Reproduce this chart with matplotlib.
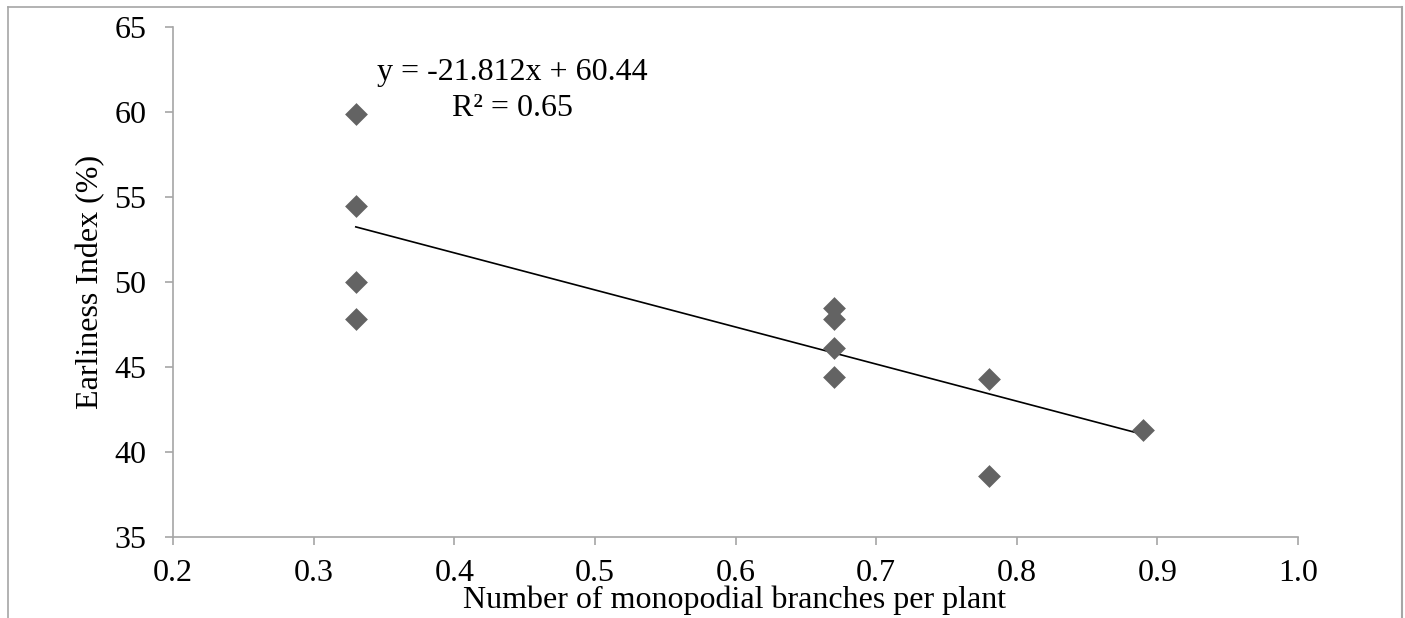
import matplotlib
matplotlib.use("Agg")
import matplotlib.pyplot as plt
from matplotlib.lines import Line2D
import numpy as np

plt.rcParams['font.family'] = ['Liberation Serif', 'DejaVu Serif']

x_vals = [0.33, 0.33, 0.33, 0.33, 0.67, 0.67, 0.67, 0.67, 0.78, 0.78, 0.89]
y_vals = [59.9, 54.5, 50.0, 47.85, 48.5, 47.8, 46.1, 44.4, 44.3, 38.6, 41.3]
slope = -21.812
intercept = 60.44
eq_text = "y = -21.812x + 60.44\nR² = 0.65"
x_ticks = [0.2, 0.3, 0.4, 0.5, 0.6, 0.7, 0.8, 0.9, 1.0]
x_ticklabels = ["0.2", "0.3", "0.4", "0.5", "0.6", "0.7", "0.8", "0.9", "1.0"]
y_ticks = [35, 40, 45, 50, 55, 60, 65]

W, H = 1405, 618
FS = 23
fig = plt.figure(figsize=(W / 100, H / 100), dpi=100)
ax = fig.add_axes([173 / W, 1 - 537 / H, (1298 - 173) / W, (537 - 27) / H])

ax.scatter(x_vals, y_vals, marker='D', s=135, color='#636363', zorder=3, linewidths=0)
xl = np.array([min(x_vals), max(x_vals)])
ax.plot(xl, slope * xl + intercept, color='black', lw=1.2, zorder=2)

ax.set_xlim(0.2, 1.0)
ax.set_ylim(35, 65)
ax.set_xticks(x_ticks)
ax.set_xticklabels(x_ticklabels)
ax.set_yticks(y_ticks)
for s in ['top', 'right']:
    ax.spines[s].set_visible(False)
for s in ['left', 'bottom']:
    ax.spines[s].set_color('#a6a6a6')
    ax.spines[s].set_linewidth(1.2)
ax.tick_params(axis='both', direction='out', length=6, width=1.2, color='#a6a6a6',
               labelsize=FS, labelcolor='black')
ax.tick_params(axis='x', pad=10)
ax.tick_params(axis='y', pad=13)

ax.text(0.302, 0.876, eq_text, transform=ax.transAxes, ha='center', va='center',
        fontsize=FS, linespacing=1.3)

fig.text(735 / W, 1 - 608 / H, "Number of monopodial branches per plant", ha='center', va='baseline',
         fontsize=FS)
fig.text(91 / W, 1 - 282 / H, "Earliness Index (%)", ha='center', va='center', rotation=90,
         fontsize=FS)

# outer frame lines
fig.add_artist(Line2D([8 / W, 1402 / W], [1 - 7 / H, 1 - 7 / H], color='#a6a6a6', lw=1.2))
fig.add_artist(Line2D([8 / W, 8 / W], [1 - 7 / H, 0], color='#a6a6a6', lw=1.2))
fig.add_artist(Line2D([1402 / W, 1402 / W], [1 - 7 / H, 0], color='#a6a6a6', lw=1.5))

fig.savefig("out.png", dpi=100)
